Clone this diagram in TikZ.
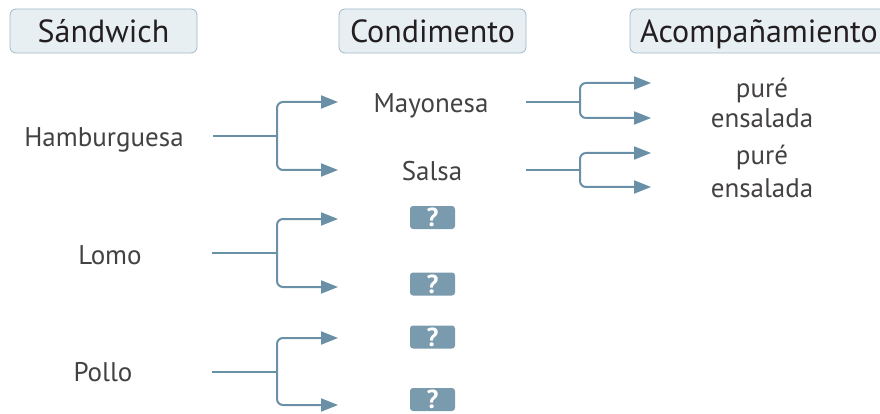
\documentclass[tikz,border=0pt]{standalone}
\usepackage{fontspec}
\setmainfont{PT Sans}
\usepackage{xcolor}
\definecolor{linea}{RGB}{106,144,168}
\definecolor{cabfill}{RGB}{232,239,243}
\definecolor{cabdraw}{RGB}{160,184,200}
\definecolor{pregunta}{RGB}{122,154,174}
\definecolor{texto}{RGB}{35,31,32}
\usepackage{tikz}
\usetikzlibrary{arrows.meta, positioning}

\tikzset{
    cabecera/.style={draw=cabdraw, fill=cabfill, rounded corners=6pt, line width=0.8pt},
    titulo/.style={anchor=base, text=texto, inner sep=0pt, font=\fontsize{32}{36}\selectfont},
    etiqueta/.style={anchor=base, text=texto!85, inner sep=0pt, font=\fontsize{27}{32}\selectfont},
    interrogante/.style={fill=pregunta, text=white, rounded corners=3pt, minimum width=45pt,
        minimum height=23pt, inner sep=0pt, font=\bfseries\fontsize{26}{26}\selectfont},
    tronco/.style={draw=linea, line width=2pt},
    rama/.style={draw=linea, line width=2pt, rounded corners=6pt, -{Triangle[length=17pt,width=13pt]}}
}

\begin{document}
\begin{tikzpicture}[x=1pt, y=-1pt]
    \useasboundingbox (0,0) rectangle (880,414);

    % cabeceras
    \draw[cabecera] (10,9) rectangle (197,53);
    \draw[cabecera] (339,9) rectangle (526,53);
    \draw[cabecera] (630,9) rectangle (895,53);
    \node[titulo] (tSand) at (103.5,43) {Sándwich};
    \node[titulo] (tCond) at (432.5,43) {Condimento};
    \node[titulo] (tAcom) at (759,43) {Acompañamiento};

    % sandwiches
    \node[etiqueta] (ham) at (104,147) {Hamburguesa};
    \node[etiqueta] (lomo) at (110,264) {Lomo};
    \node[etiqueta] (pollo) at (103,381) {Pollo};

    % condimentos
    \node[etiqueta] (mayo) at (431,113) {Mayonesa};
    \node[etiqueta] (salsa) at (432,181) {Salsa};
    \node[interrogante] (q1) at (432.5,217.5) {?};
    \node[interrogante] (q2) at (432.5,284) {?};
    \node[interrogante] (q3) at (432.5,337) {?};
    \node[interrogante] (q4) at (432.5,399.5) {?};

    % acompanamientos
    \node[etiqueta] (pure1) at (762,98) {puré};
    \node[etiqueta] (ens1) at (762,128) {ensalada};
    \node[etiqueta] (pure2) at (762,165) {puré};
    \node[etiqueta] (ens2) at (762,197) {ensalada};

    % horquillas
    \foreach \nombre/\xa/\xb/\xc/\y/\ya/\yb in {ham/213/277/338/136/102/170,
        lomo/212/277/338/253/219/287, pollo/212/277/338/372/338/405,
        mayo/526/580/651/102/83/118, salsa/526/580/651/170/153/187} {
        \coordinate (\nombre S) at (\xa,\y);
        \coordinate (\nombre J) at (\xb,\y);
        \coordinate (\nombre A) at (\xc,\ya);
        \coordinate (\nombre B) at (\xc,\yb);
        \draw[tronco] (\nombre S) -- (\nombre J);
        \draw[rama] (\nombre J) |- (\nombre A);
        \draw[rama] (\nombre J) |- (\nombre B);
    }
\end{tikzpicture}
\end{document}
